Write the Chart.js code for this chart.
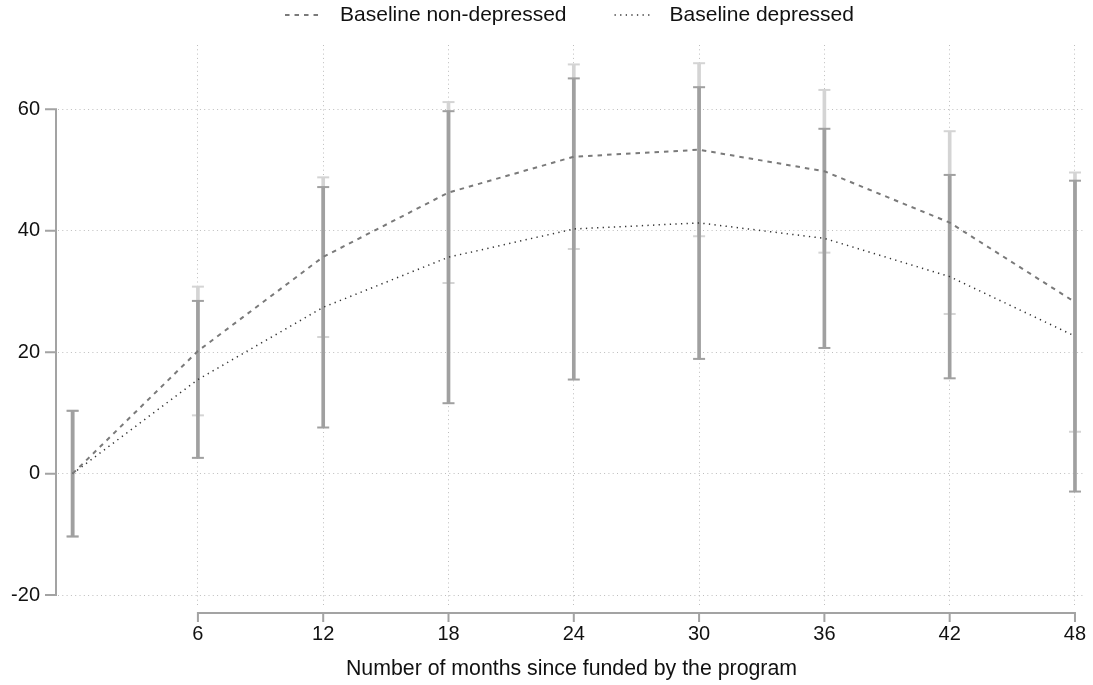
<!DOCTYPE html>
<html>
<head>
<meta charset="utf-8">
<title>Months since funded by the program</title>
<script src="https://cdn.jsdelivr.net/npm/chart.js@4.4.1/dist/chart.umd.min.js"></script>
<style>
    html, body { margin: 0; padding: 0; background: #fff; }
    canvas { display: block; }
</style>
</head>
<body>
<canvas id="chart" width="1093" height="685"></canvas>
<script>
// Months since funded (x values) and axis ticks
const months = [0, 6, 12, 18, 24, 30, 36, 42, 48];
const xTicks = [6, 12, 18, 24, 30, 36, 42, 48];
const yTicks = [-20, 0, 20, 40, 60];

// Baseline non-depressed: estimate and confidence interval
const nonDepressed   = [0, 20.2, 35.7, 46.3, 52.2, 53.35, 49.8, 41.35, 28.25];
const nonDepressedLo = [-10.35, 9.6, 22.5, 31.4, 37.0, 39.1, 36.4, 26.3, 6.9];
const nonDepressedHi = [10.35, 30.8, 48.8, 61.2, 67.4, 67.6, 63.2, 56.4, 49.6];

// Baseline depressed: estimate and confidence interval
const depressed   = [0, 15.5, 27.4, 35.65, 40.3, 41.3, 38.75, 32.45, 22.65];
const depressedLo = [-10.35, 2.6, 7.6, 11.6, 15.5, 18.9, 20.7, 15.7, -2.95];
const depressedHi = [10.35, 28.45, 47.2, 59.7, 65.1, 63.65, 56.8, 49.2, 48.25];

const FONT = '"Liberation Sans", Arial, Helvetica, sans-serif';
const TEXT_COLOR = '#111';
const AXIS_COLOR = '#a3a3a3';
const GRID_COLOR = '#bdbdbd';
const DARK_BAR = '#a0a0a0';
const LIGHT_BAR = '#d4d4d4';

Chart.defaults.font.family = FONT;

// helpers to build chart points from the arrays
function points(ys) {
    return months.map((m, i) => ({ x: m, y: ys[i] }));
}
function ranges(lo, hi) {
    return months.map((m, i) => ({ x: m, y: [lo[i], hi[i]] }));
}
function caps(lo, hi) {
    return months.flatMap((m, i) => [{ x: m, y: lo[i] }, { x: m, y: hi[i] }]);
}

// keep the plot area fixed: no extra room for edge tick labels
function noEdgePadding(s) {
    s.paddingLeft = 0;
    s.paddingRight = 0;
    s.paddingTop = 0;
    s.paddingBottom = 0;
}

// Stata-like axes: lines only across the tick range, detached x axis
const axesPlugin = {
    id: 'stataAxes',
    afterDraw(chart) {
        const { ctx, chartArea, scales: { x, y } } = chart;
        ctx.save();
        ctx.strokeStyle = AXIS_COLOR;
        ctx.lineWidth = 2;

        // y axis
        const ax = chartArea.left - 2;
        ctx.beginPath();
        ctx.moveTo(ax, y.getPixelForValue(yTicks[yTicks.length - 1]) - 1);
        ctx.lineTo(ax, y.getPixelForValue(yTicks[0]) + 1);
        yTicks.forEach(v => {
            const p = y.getPixelForValue(v);
            ctx.moveTo(ax - 11, p);
            ctx.lineTo(ax, p);
        });
        ctx.stroke();

        // x axis
        const ay = chartArea.bottom + 7;
        ctx.beginPath();
        ctx.moveTo(x.getPixelForValue(xTicks[0]) - 1, ay);
        ctx.lineTo(x.getPixelForValue(xTicks[xTicks.length - 1]) + 1, ay);
        xTicks.forEach(v => {
            const p = x.getPixelForValue(v);
            ctx.moveTo(p, ay);
            ctx.lineTo(p, ay + 9);
        });
        ctx.stroke();
        ctx.restore();
    }
};

// Legend on one row above the plot
const legendPlugin = {
    id: 'stataLegend',
    afterDraw(chart) {
        const { ctx, chartArea } = chart;
        const items = chart.data.datasets.filter(d => d.showLine !== false && d.type === 'line');
        const sample = 38, gapText = 17, gapItem = 48, yc = 15;

        ctx.save();
        ctx.font = '21px ' + FONT;
        const widths = items.map(d => sample + gapText + ctx.measureText(d.label).width);
        const total = widths.reduce((a, b) => a + b, 0) + gapItem * (items.length - 1);
        let x = (chartArea.left + chartArea.right) / 2 - total / 2 - 2;

        items.forEach((d, i) => {
            ctx.strokeStyle = d.borderColor;
            ctx.lineWidth = d.borderWidth;
            ctx.setLineDash(d.borderDash);
            ctx.beginPath();
            ctx.moveTo(x, yc);
            ctx.lineTo(x + sample, yc);
            ctx.stroke();
            ctx.setLineDash([]);
            ctx.fillStyle = TEXT_COLOR;
            ctx.textBaseline = 'middle';
            ctx.fillText(d.label, x + sample + gapText, yc);
            x += widths[i] + gapItem;
        });
        ctx.restore();
    }
};

new Chart(document.getElementById('chart'), {
    type: 'line',
    data: {
        datasets: [
            {
                type: 'line',
                label: 'Baseline non-depressed',
                data: points(nonDepressed),
                borderColor: '#7a7a7a',
                borderWidth: 2,
                borderDash: [4.5, 5],
                pointRadius: 0,
                tension: 0,
                fill: false,
                order: 0
            },
            {
                type: 'line',
                label: 'Baseline depressed',
                data: points(depressed),
                borderColor: '#333333',
                borderWidth: 1.5,
                borderDash: [1.3, 4.3],
                pointRadius: 0,
                tension: 0,
                fill: false,
                order: 0
            },
            {
                type: 'bar',
                label: 'CI depressed',
                data: ranges(depressedLo, depressedHi),
                backgroundColor: DARK_BAR,
                barThickness: 3,
                grouped: false,
                order: 1
            },
            {
                type: 'line',
                label: 'CI depressed caps',
                data: caps(depressedLo, depressedHi),
                showLine: false,
                pointStyle: 'line',
                pointRadius: 6,
                pointBorderWidth: 2,
                pointBorderColor: DARK_BAR,
                order: 1
            },
            {
                type: 'bar',
                label: 'CI non-depressed',
                data: ranges(nonDepressedLo, nonDepressedHi),
                backgroundColor: LIGHT_BAR,
                barThickness: 3,
                grouped: false,
                order: 2
            },
            {
                type: 'line',
                label: 'CI non-depressed caps',
                data: caps(nonDepressedLo, nonDepressedHi),
                showLine: false,
                pointStyle: 'line',
                pointRadius: 6,
                pointBorderWidth: 2,
                pointBorderColor: LIGHT_BAR,
                order: 2
            }
        ]
    },
    options: {
        responsive: false,
        animation: false,
        events: [],
        layout: { padding: { top: 45, right: 3, left: 0, bottom: 0 } },
        plugins: {
            legend: { display: false },
            tooltip: { enabled: false }
        },
        scales: {
            x: {
                type: 'linear',
                min: -0.7,
                max: 48.48,
                offset: false,
                afterBuildTicks: s => { s.ticks = xTicks.map(v => ({ value: v })); },
                afterFit: s => { s.height = 79; noEdgePadding(s); },
                grid: { color: GRID_COLOR, lineWidth: 1, drawTicks: false, offset: false },
                border: { display: false, dash: [1, 3.3] },
                ticks: {
                    padding: 16,
                    color: TEXT_COLOR,
                    font: { size: 20 },
                    maxRotation: 0,
                    autoSkip: false
                },
                title: {
                    display: true,
                    text: 'Number of months since funded by the program',
                    color: TEXT_COLOR,
                    font: { size: 21.3 },
                    padding: { top: 3, bottom: 3 }
                }
            },
            y: {
                type: 'linear',
                min: -21.8,
                max: 70.6,
                afterBuildTicks: s => { s.ticks = yTicks.map(v => ({ value: v })); },
                afterFit: s => { s.width = 58; noEdgePadding(s); },
                grid: { color: GRID_COLOR, lineWidth: 1, drawTicks: false },
                border: { display: false, dash: [1, 3.3] },
                ticks: {
                    padding: 18,
                    color: TEXT_COLOR,
                    font: { size: 20 }
                }
            }
        }
    },
    plugins: [axesPlugin, legendPlugin]
});
</script>
</body>
</html>
